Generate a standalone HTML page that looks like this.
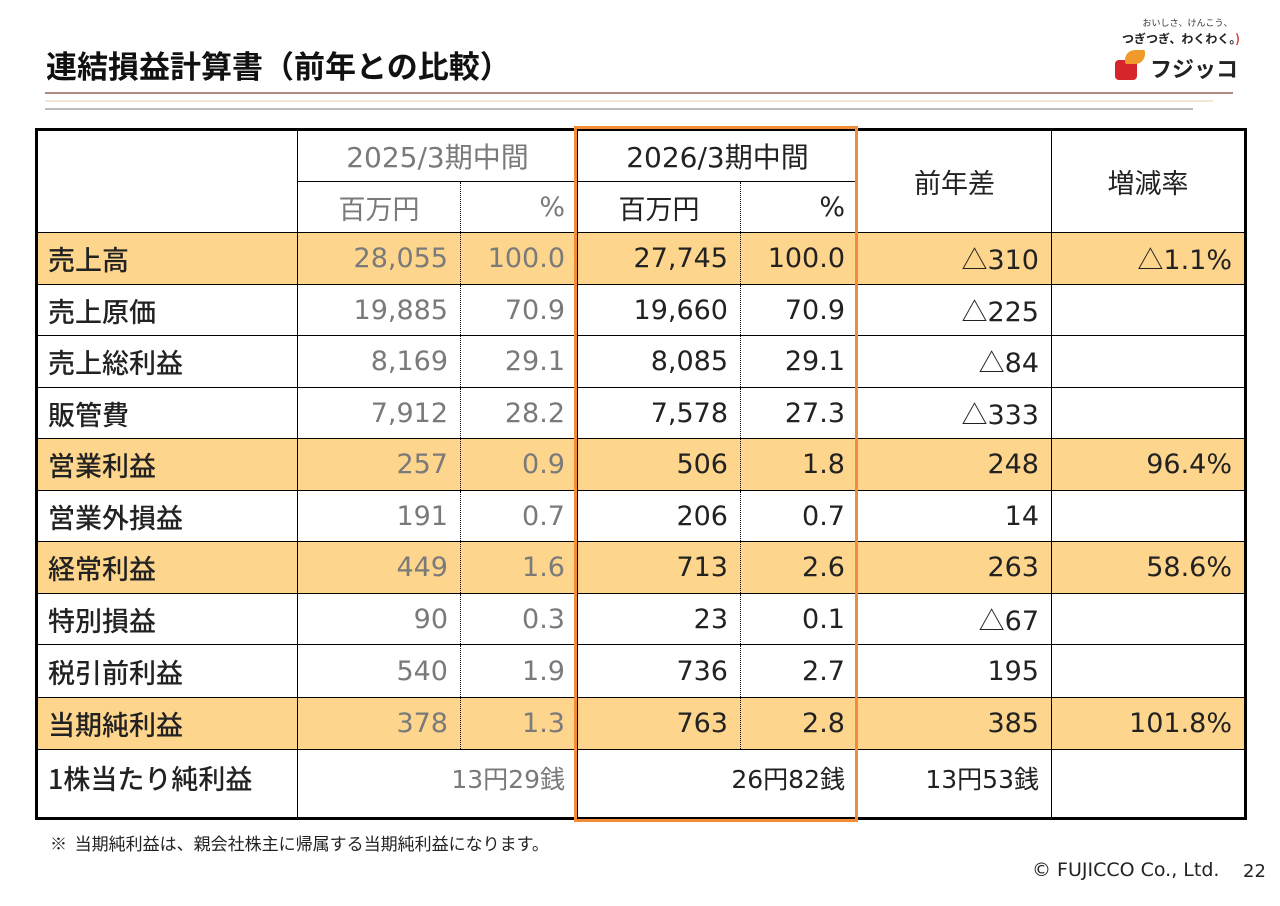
<!DOCTYPE html>
<html><head><meta charset="utf-8"><style>
body{margin:0;width:1280px;height:906px;background:#fff;position:relative;overflow:hidden;font-family:"DejaVu Sans","Noto Sans CJK JP",sans-serif;}
.abs{position:absolute}
table{position:absolute;left:35px;top:128px;border-collapse:collapse;table-layout:fixed;border:3px solid #000}
td{border:1px solid #000;padding:0 12px;font-size:27px;color:#222;white-space:nowrap;font-family:"DejaVu Sans","Noto Sans CJK JP",sans-serif}
td.lb{font-family:"Noto Sans CJK JP",sans-serif;font-size:27px;padding-left:10px;font-weight:500}
td.r{text-align:right}
td.c{text-align:center}
td.g{color:#7a7a7a}
td.dl{border-right:1px dotted #000}
td.dr{border-left:1px dotted #000}
tr.hl td{background:#fdd58c}
.t{font-family:"Noto Sans CJK JP",sans-serif;font-size:26px}
.j{font-family:"Noto Sans CJK JP",sans-serif}
</style></head><body>
<div class="abs" style="left:46px;top:42px;font-size:31px;font-weight:bold;color:#111;font-family:'Noto Sans CJK JP',sans-serif">連結損益計算書（前年との比較）</div>
<div class="abs" style="left:45px;top:92px;width:1188px;height:2px;background:#b48a84"></div>
<div class="abs" style="left:45px;top:100px;width:1168px;height:2px;background:#f3e6d6"></div>
<div class="abs" style="left:45px;top:108px;width:1148px;height:2px;background:#bbb"></div>
<div class="abs" style="left:1125px;top:16px;width:125px;text-align:center;font-size:9px;color:#333;font-family:'Noto Sans CJK JP',sans-serif">おいしさ、けんこう、</div>
<div class="abs" style="left:1122px;top:30px;font-size:12px;font-weight:bold;color:#222;font-family:'Noto Sans CJK JP',sans-serif">つぎつぎ、わくわく。<span style="color:#c33">)</span></div>
<div class="abs" style="left:1115px;top:50px;width:30px;height:30px">
<div class="abs" style="left:0;top:10px;width:22px;height:20px;background:#d6262b;border-radius:4px"></div>
<div class="abs" style="left:10px;top:0;width:20px;height:14px;background:#ef9a2a;border-radius:10px 2px 10px 2px"></div></div>
<div class="abs" style="left:1150px;top:52px;font-size:22px;font-weight:bold;color:#222;font-family:'Noto Sans CJK JP',sans-serif">フジッコ</div>

<table>
<colgroup><col style="width:261px"><col style="width:163px"><col style="width:117px"><col style="width:163px"><col style="width:117px"><col style="width:194px"><col style="width:194px"></colgroup>
<tr style="height:52px"><td rowspan="2"></td><td colspan="2" class="c g" style="font-size:28px">2025/3<span class="j">期中間</span></td><td colspan="2" class="c" style="font-size:28px">2026/3<span class="j">期中間</span></td><td rowspan="2" class="c j">前年差</td><td rowspan="2" class="c j">増減率</td></tr>
<tr style="height:51px"><td class="c g dl j">百万円</td><td class="r g dr">%</td><td class="c dl j">百万円</td><td class="r dr">%</td></tr>
<tr class="hl" style="height:52px"><td class="lb">売上高</td><td class="r g dl">28,055</td><td class="r g dr">100.0</td><td class="r dl">27,745</td><td class="r dr">100.0</td><td class="r"><span class="t">△</span>310</td><td class="r"><span class="t">△</span>1.1%</td></tr>
<tr style="height:51px"><td class="lb">売上原価</td><td class="r g dl">19,885</td><td class="r g dr">70.9</td><td class="r dl">19,660</td><td class="r dr">70.9</td><td class="r"><span class="t">△</span>225</td><td></td></tr>
<tr style="height:52px"><td class="lb">売上総利益</td><td class="r g dl">8,169</td><td class="r g dr">29.1</td><td class="r dl">8,085</td><td class="r dr">29.1</td><td class="r"><span class="t">△</span>84</td><td></td></tr>
<tr style="height:51px"><td class="lb">販管費</td><td class="r g dl">7,912</td><td class="r g dr">28.2</td><td class="r dl">7,578</td><td class="r dr">27.3</td><td class="r"><span class="t">△</span>333</td><td></td></tr>
<tr class="hl" style="height:52px"><td class="lb">営業利益</td><td class="r g dl">257</td><td class="r g dr">0.9</td><td class="r dl">506</td><td class="r dr">1.8</td><td class="r">248</td><td class="r">96.4%</td></tr>
<tr style="height:51px"><td class="lb">営業外損益</td><td class="r g dl">191</td><td class="r g dr">0.7</td><td class="r dl">206</td><td class="r dr">0.7</td><td class="r">14</td><td></td></tr>
<tr class="hl" style="height:52px"><td class="lb">経常利益</td><td class="r g dl">449</td><td class="r g dr">1.6</td><td class="r dl">713</td><td class="r dr">2.6</td><td class="r">263</td><td class="r">58.6%</td></tr>
<tr style="height:51px"><td class="lb">特別損益</td><td class="r g dl">90</td><td class="r g dr">0.3</td><td class="r dl">23</td><td class="r dr">0.1</td><td class="r"><span class="t">△</span>67</td><td></td></tr>
<tr style="height:53px"><td class="lb">税引前利益</td><td class="r g dl">540</td><td class="r g dr">1.9</td><td class="r dl">736</td><td class="r dr">2.7</td><td class="r">195</td><td></td></tr>
<tr class="hl" style="height:52px"><td class="lb">当期純利益</td><td class="r g dl">378</td><td class="r g dr">1.3</td><td class="r dl">763</td><td class="r dr">2.8</td><td class="r">385</td><td class="r">101.8%</td></tr>
<tr style="height:69px"><td class="lb" style="vertical-align:top;padding-top:8px">1株当たり純利益</td><td colspan="2" class="r g" style="vertical-align:top;padding-top:10px;font-size:25px">13<span class="j">円</span>29<span class="j">銭</span></td><td colspan="2" class="r" style="vertical-align:top;padding-top:10px;font-size:25px">26<span class="j">円</span>82<span class="j">銭</span></td><td class="r" style="vertical-align:top;padding-top:10px;font-size:25px">13<span class="j">円</span>53<span class="j">銭</span></td><td></td></tr>
</table>
<div class="abs" style="left:574px;top:126px;width:278px;height:690px;border:3px solid #f28c38"></div>

<div class="abs" style="left:50px;top:830px;font-size:17px;color:#222;font-family:'Noto Sans CJK JP',sans-serif">※&nbsp; 当期純利益は、親会社株主に帰属する当期純利益になります。</div>
<div class="abs" style="left:1032px;top:859px;font-size:19px;color:#222">© FUJICCO Co., Ltd.</div>
<div class="abs" style="left:1243px;top:861px;font-size:18px;color:#222">22</div>
</body></html>
